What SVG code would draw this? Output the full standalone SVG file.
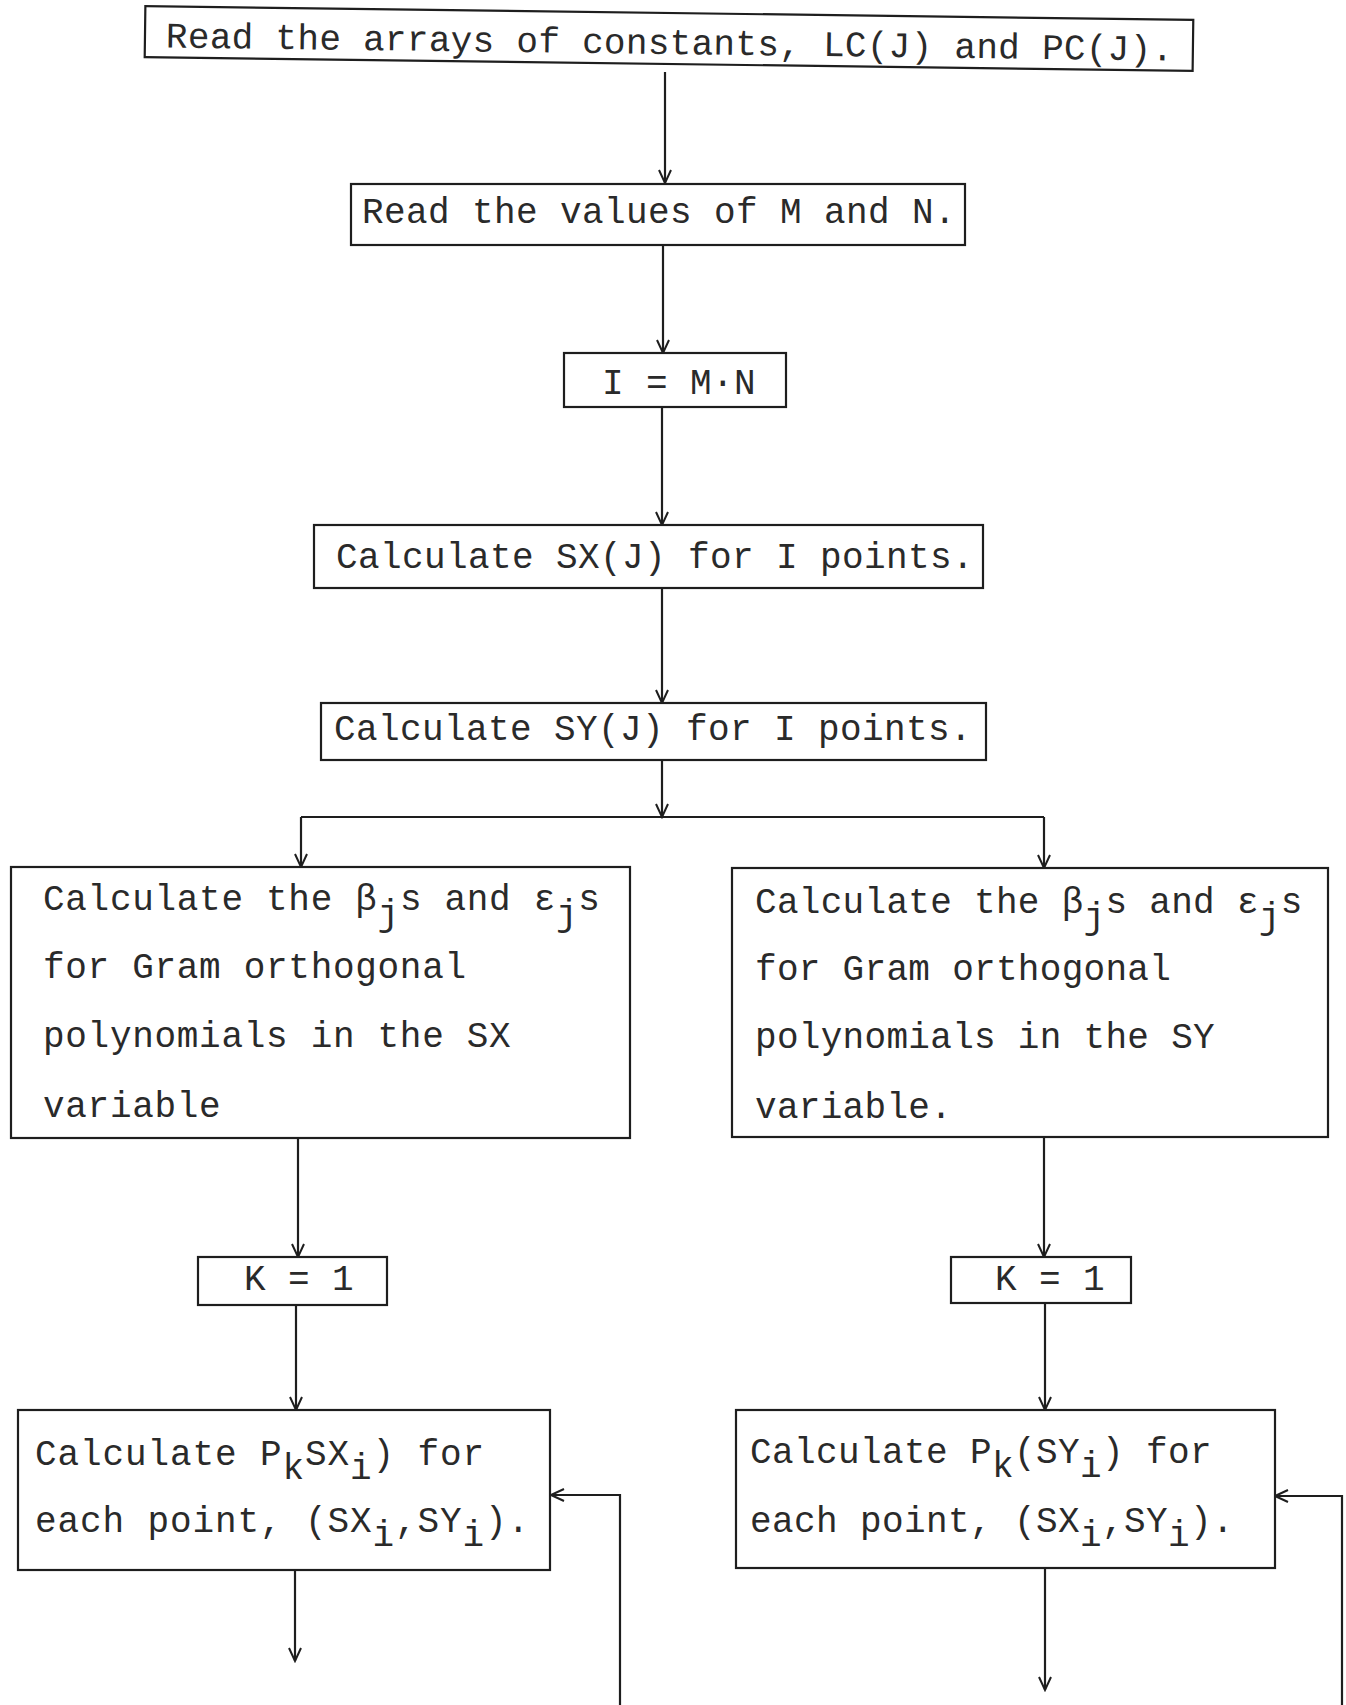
<svg xmlns="http://www.w3.org/2000/svg" width="1346" height="1705" viewBox="0 0 1346 1705">
<defs>
<style>
.box{fill:#fff;stroke:#1e1e1e;stroke-width:2.2}
.t{font-family:"Liberation Mono","DejaVu Sans Mono",monospace;font-size:36px;fill:#2a2a2a;letter-spacing:0.4px}
.ln{fill:none;stroke:#1e1e1e;stroke-width:2.2}
</style>
<marker id="ah" viewBox="-15 -8 17 16" refX="0" refY="0" markerWidth="17" markerHeight="16" markerUnits="userSpaceOnUse" orient="auto">
<path d="M-13,-6 L0,0 L-13,6" fill="none" stroke="#1e1e1e" stroke-width="2"/>
</marker>
</defs>
<rect width="1346" height="1705" fill="#fff"/>

<g id="connectors">
<path class="ln" d="M665,72 V183" marker-end="url(#ah)"/>
<path class="ln" d="M663,245 V353" marker-end="url(#ah)"/>
<path class="ln" d="M662,407 V525" marker-end="url(#ah)"/>
<path class="ln" d="M662,588 V703" marker-end="url(#ah)"/>
<path class="ln" d="M662,760 V817" marker-end="url(#ah)"/>
<path class="ln" d="M301,817 H1044"/>
<path class="ln" d="M301,817 V867" marker-end="url(#ah)"/>
<path class="ln" d="M1044,817 V868" marker-end="url(#ah)"/>
<path class="ln" d="M298,1138 V1257" marker-end="url(#ah)"/>
<path class="ln" d="M1044,1137 V1257" marker-end="url(#ah)"/>
<path class="ln" d="M296,1305 V1410" marker-end="url(#ah)"/>
<path class="ln" d="M1045,1303 V1410" marker-end="url(#ah)"/>
<path class="ln" d="M295,1570 V1661" marker-end="url(#ah)"/>
<path class="ln" d="M620,1705 V1495 H551" marker-end="url(#ah)"/>
<path class="ln" d="M1045,1568 V1690" marker-end="url(#ah)"/>
<path class="ln" d="M1342,1705 V1496 H1275" marker-end="url(#ah)"/>
</g>

<g id="n1" transform="rotate(0.75 669 38)">
<rect class="box" x="145" y="13" width="1048" height="51"/>
<text class="t" x="166" y="54" style="letter-spacing:0.3px">Read the arrays of constants, LC(J) and PC(J).</text>
</g>

<g id="n2">
<rect class="box" x="351" y="184" width="614" height="61"/>
<text class="t" x="362" y="223">Read the values of M and N.</text>
</g>

<g id="n3">
<rect class="box" x="564" y="353" width="222" height="54"/>
<text class="t" x="602" y="394">I = M·N</text>
</g>

<g id="n4">
<rect class="box" x="314" y="525" width="669" height="63"/>
<text class="t" x="336" y="568">Calculate SX(J) for I points.</text>
</g>

<g id="n5">
<rect class="box" x="321" y="703" width="665" height="57"/>
<text class="t" x="334" y="740">Calculate SY(J) for I points.</text>
</g>

<g id="n6">
<rect class="box" x="11" y="867" width="619" height="271"/>
<text class="t" x="43" y="910" style="letter-spacing:0.7px">Calculate the β<tspan dy="15">j</tspan><tspan dy="-15">s and ε</tspan><tspan dy="15">j</tspan><tspan dy="-15">s</tspan></text>
<text class="t" x="43" y="978" style="letter-spacing:0.7px">for Gram orthogonal</text>
<text class="t" x="43" y="1047" style="letter-spacing:0.7px">polynomials in the SX</text>
<text class="t" x="43" y="1117" style="letter-spacing:0.7px">variable</text>
</g>

<g id="n7">
<rect class="box" x="732" y="868" width="596" height="269"/>
<text class="t" x="755" y="913" style="letter-spacing:0.3px">Calculate the β<tspan dy="15">j</tspan><tspan dy="-15">s and ε</tspan><tspan dy="15">j</tspan><tspan dy="-15">s</tspan></text>
<text class="t" x="755" y="980" style="letter-spacing:0.3px">for Gram orthogonal</text>
<text class="t" x="755" y="1048" style="letter-spacing:0.3px">polynomials in the SY</text>
<text class="t" x="755" y="1118" style="letter-spacing:0.3px">variable.</text>
</g>

<g id="n8">
<rect class="box" x="198" y="1257" width="189" height="48"/>
<text class="t" x="244" y="1290">K = 1</text>
</g>

<g id="n9">
<rect class="box" x="951" y="1257" width="180" height="46"/>
<text class="t" x="995" y="1290">K = 1</text>
</g>

<g id="n10">
<rect class="box" x="18" y="1410" width="532" height="160"/>
<text class="t" x="35" y="1465" style="letter-spacing:0.9px">Calculate P<tspan dy="14">k</tspan><tspan dy="-14">SX</tspan><tspan dy="14">i</tspan><tspan dy="-14">) for</tspan></text>
<text class="t" x="35" y="1532" style="letter-spacing:0.9px">each point, (SX<tspan dy="14">i</tspan><tspan dy="-14">,SY</tspan><tspan dy="14">i</tspan><tspan dy="-14">).</tspan></text>
</g>

<g id="n11">
<rect class="box" x="736" y="1410" width="539" height="158"/>
<text class="t" x="750" y="1463">Calculate P<tspan dy="14">k</tspan><tspan dy="-14">(SY</tspan><tspan dy="14">i</tspan><tspan dy="-14">) for</tspan></text>
<text class="t" x="750" y="1532">each point, (SX<tspan dy="14">i</tspan><tspan dy="-14">,SY</tspan><tspan dy="14">i</tspan><tspan dy="-14">).</tspan></text>
</g>
</svg>
